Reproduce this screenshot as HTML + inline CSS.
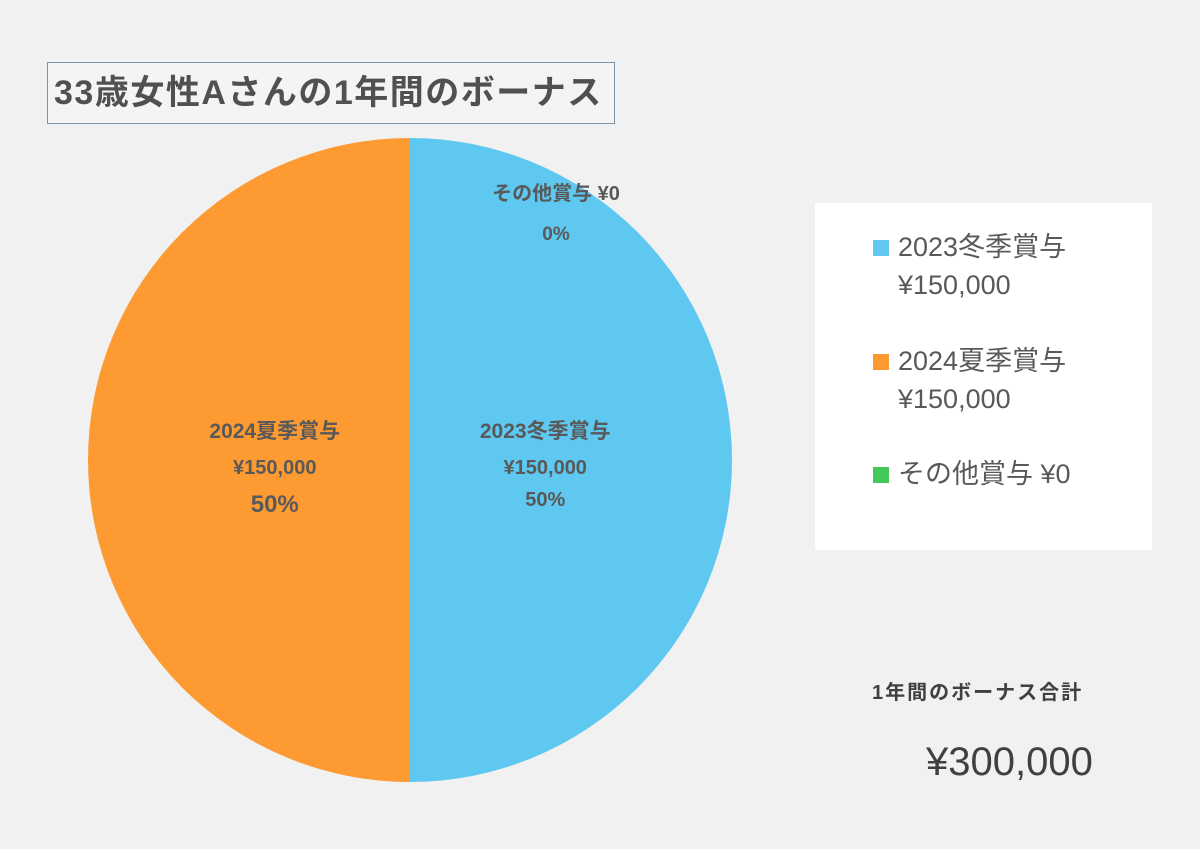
<!DOCTYPE html>
<html><head><meta charset="utf-8">
<style>
body{margin:0;width:1200px;height:849px;background:#f1f1f1;font-family:"Liberation Sans","Noto Sans CJK JP",sans-serif;position:relative;overflow:hidden;color:#595959}
#title{position:absolute;left:47px;top:62px;width:568px;height:62px;border:1px solid #7a94a8;box-sizing:border-box;font-weight:bold;font-size:34px;letter-spacing:1.5px;line-height:60px;padding-left:6px;color:#505050;background:#f4f4f4;white-space:nowrap}
#legend{position:absolute;left:815px;top:203px;width:337px;height:347px;background:#fff}
.li{position:absolute;left:83px;font-size:27px;line-height:38px;color:#595959}
.sw{position:absolute;left:-25px;top:12px;width:16px;height:16px}
#total-label{position:absolute;left:872px;top:676px;font-weight:bold;font-size:20px;letter-spacing:2px;color:#404040}
#total{position:absolute;left:926px;top:740px;font-size:40px;color:#404040}
</style></head><body>
<div id="title">33歳女性Aさんの1年間のボーナス</div>
<svg id="pie" width="1200" height="849" style="position:absolute;left:0;top:0"></svg>
<div id="legend">
 <div class="li" style="top:25px"><span class="sw" style="background:#5ec8f0"></span>2023冬季賞与<br>¥150,000</div>
 <div class="li" style="top:139px"><span class="sw" style="background:#fd9a32"></span>2024夏季賞与<br>¥150,000</div>
 <div class="li" style="top:252px"><span class="sw" style="background:#44c85a"></span>その他賞与 ¥0</div>
</div>
<div id="total-label">1年間のボーナス合計</div>
<div id="total">¥300,000</div>
<script>
const categories=["2023冬季賞与","2024夏季賞与","その他賞与"];
const values=[150000,150000,0];
const valueLabels=["¥150,000","¥150,000","¥0"];
const colors=["#5ec8f0","#fd9a32","#44c85a"];
const svg=document.getElementById('pie');
const NS="http://www.w3.org/2000/svg";
const cx=410,cy=460,r=322;
const total=values.reduce((a,b)=>a+b,0);
let a0=0;
function pt(a,rr){return [cx+rr*Math.sin(a),cy-rr*Math.cos(a)];}
values.forEach((v,i)=>{
  const a1=a0+v/total*2*Math.PI;
  if(v>0){
    const p=document.createElementNS(NS,'path');
    const [x0,y0]=pt(a0,r),[x1,y1]=pt(a1,r);
    const large=(a1-a0)>Math.PI?1:0;
    p.setAttribute('d',`M${cx},${cy}L${x0},${y0}A${r},${r} 0 ${large} 1 ${x1},${y1}Z`);
    p.setAttribute('fill',colors[i]);
    
    
    svg.appendChild(p);
  }
  const pct=Math.round(v/total*100)+'%';
  const mid=(a0+a1)/2;
  const g=document.createElementNS(NS,'text');
  
  
  g.setAttribute('text-anchor','middle');
  g.setAttribute('font-weight','bold');
  g.setAttribute('fill','#595959');
  let lx,ly,lines;
  if(v>0){[lx,ly]=pt(mid,r*0.42);lines=[[categories[i],21,-22],[valueLabels[i],20,14],[pct,i==1?24:20,i==1?52:46]];}
  else{[lx,ly]=pt(mid,r*0.72);lx+=146;ly+=-28;lines=[[categories[i]+' '+valueLabels[i],20,0],[pct,19,40]];}
  lines.forEach(([t,fs,dy])=>{const ts=document.createElementNS(NS,'tspan');ts.setAttribute('x',lx);ts.setAttribute('y',ly+dy);ts.setAttribute('font-size',fs);ts.textContent=t;g.appendChild(ts);});
  svg.appendChild(g);
  a0=a1;
});
</script>
</body></html>
